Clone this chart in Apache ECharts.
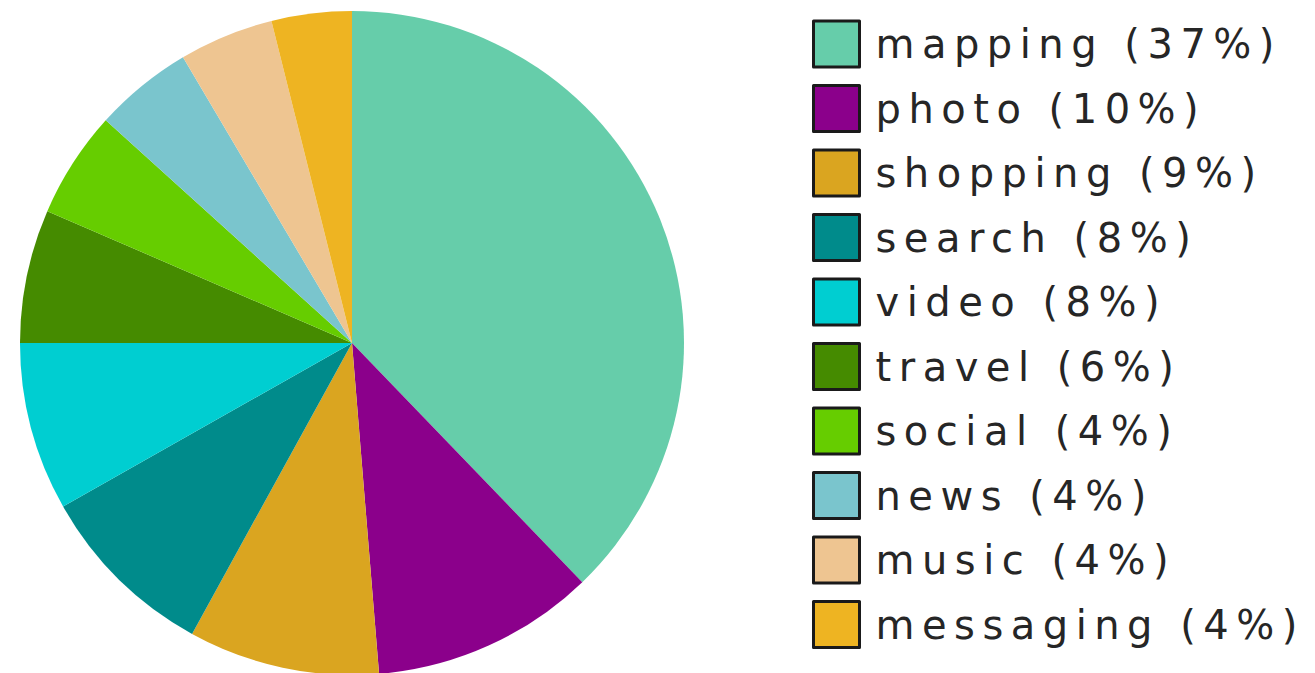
<!DOCTYPE html>
<html>
<head>
<meta charset="utf-8">
<script src="https://cdn.jsdelivr.net/npm/echarts@6/dist/echarts.min.js"></script>
<style>
    html, body { margin: 0; padding: 0; background: #fff; }
    #chart { width: 1315px; height: 673px; }
    /* 图例文字字距拉宽 */
    #chart text { letter-spacing: 7.5px; }
</style>
</head>
<body>
<div id="chart"></div>
<script>
// 分类、扇区值（按角度估读）、图例中的百分比
var categories = ['mapping', 'photo', 'shopping', 'search', 'video', 'travel', 'social', 'news', 'music', 'messaging'];
var values = [37.8, 10.9, 9.3, 8.8, 8.2, 6.5, 5.2, 4.8, 4.6, 3.9];
var legendPct = [37, 10, 9, 8, 8, 6, 4, 4, 4, 4];
var colors = ['#66CDAA', '#8B008B', '#DAA520', '#008B8B', '#00CED1', '#458B00', '#66CD00', '#7AC5CD', '#EEC591', '#EEB422'];

(function () {
    var myChart = echarts.init(document.getElementById('chart'), null, { renderer: 'svg' });

    var pieData = categories.map(function (name, i) {
        return { name: name, value: values[i] };
    });

    var option = {
        animation: false,
        color: colors,
        legend: {
            orient: 'vertical',
            left: 807,
            top: 14.5,
            height: 660,
            itemWidth: 46,
            itemHeight: 46,
            itemGap: 15.5,
            icon: 'rect',
            selectedMode: false,
            itemStyle: {
                borderColor: '#1a1a1a',
                borderWidth: 3
            },
            formatter: function (name) {
                var i = categories.indexOf(name);
                return '{t|' + name + ' (' + legendPct[i] + '%)}';
            },
            textStyle: {
                rich: {
                    t: {
                        fontFamily: 'DejaVu Sans',
                        fontSize: 40,
                        lineHeight: 40,
                        color: '#262626',
                        padding: [0, 0, 0, 11]
                    }
                }
            },
            data: categories
        },
        series: [{
            type: 'pie',
            center: [352, 343],
            radius: 332,
            startAngle: 90,
            clockwise: true,
            label: { show: false },
            labelLine: { show: false },
            emphasis: { disabled: true },
            itemStyle: { borderWidth: 0 },
            data: pieData
        }]
    };

    myChart.setOption(option);
})();
</script>
</body>
</html>
